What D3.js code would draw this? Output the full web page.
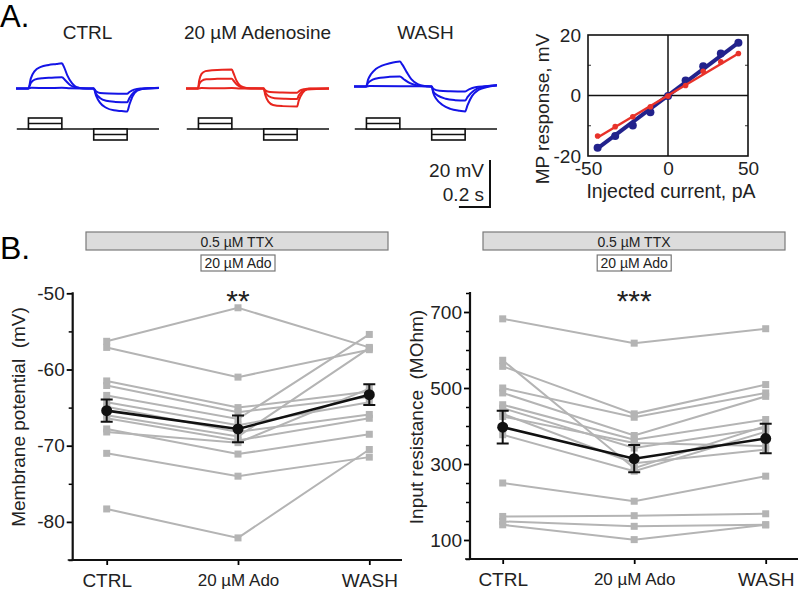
<!DOCTYPE html>
<html>
<head>
<meta charset="utf-8">
<script src="https://cdn.jsdelivr.net/npm/d3@7"></script>
<style>
body { margin: 0; background: #fff; }
svg { font-family: "Liberation Sans", Arial, sans-serif; }
</style>
</head>
<body>
<svg id="fig" width="800" height="605"></svg>
<script>
// ---- panel A: voltage traces, [time s, mV] ----
const traceTitles = ["CTRL", "20 µM Adenosine", "WASH"];
const traceColors = ["#1414e6", "#e8261e", "#1414e6"];
const stepTimes = [[0.08, 0.295], [0.5, 0.715]];

const ctrlSweeps = [
  [[0,0],[0.08,0],[0.095,4.2],[0.12,7.4],[0.16,9.2],[0.21,10],[0.26,10.4],[0.295,10.7],[0.31,9],[0.33,5.6],[0.36,2.3],[0.39,0.6],[0.43,0.1],[0.5,0],[0.515,-3],[0.54,-6],[0.58,-8.2],[0.63,-9.3],[0.68,-9.6],[0.715,-9.8],[0.73,-6.8],[0.75,-3.3],[0.78,-0.9],[0.83,0],[0.92,0.3]],
  [[0,0],[0.08,0],[0.095,2.3],[0.12,3.8],[0.17,4.4],[0.23,4.6],[0.295,4.8],[0.32,3.3],[0.35,1.4],[0.39,0.4],[0.45,0],[0.5,0],[0.515,-2.2],[0.54,-4],[0.58,-5.2],[0.64,-5.7],[0.715,-5.9],[0.73,-4],[0.76,-1.5],[0.8,-0.3],[0.92,0.2]],
  [[0,0],[0.08,0],[0.1,0.3],[0.2,0.2],[0.295,0.3],[0.35,0.1],[0.5,0],[0.515,-1.2],[0.54,-1.9],[0.6,-2.1],[0.715,-2.2],[0.73,-1.5],[0.76,-0.5],[0.8,0],[0.92,0.2]]
];
const adoSweeps = [
  [[0,0],[0.077,0],[0.085,3.4],[0.1,6.2],[0.125,7.4],[0.17,7.8],[0.295,8.1],[0.305,6.6],[0.325,3.3],[0.35,1.1],[0.39,0.2],[0.5,0],[0.51,-2.8],[0.53,-5.6],[0.56,-7],[0.62,-7.5],[0.715,-7.7],[0.725,-5.2],[0.75,-1.9],[0.78,-0.4],[0.92,0]],
  [[0,0],[0.077,0],[0.085,1.8],[0.1,3.2],[0.13,3.9],[0.2,4.1],[0.295,4.2],[0.305,3.4],[0.33,1.5],[0.36,0.4],[0.42,0],[0.5,0],[0.51,-1.6],[0.53,-3.2],[0.57,-4.1],[0.64,-4.4],[0.715,-4.5],[0.725,-3],[0.75,-1.1],[0.79,-0.1],[0.92,0]],
  [[0,0],[0.077,0],[0.1,0.2],[0.2,0.1],[0.295,0.2],[0.35,0],[0.5,0],[0.51,-0.8],[0.54,-1.5],[0.62,-1.7],[0.715,-1.8],[0.73,-1],[0.76,-0.3],[0.8,0],[0.92,0]]
];
const washSweeps = [
  [[0,0],[0.078,0],[0.09,2.8],[0.11,5.3],[0.14,7.4],[0.18,8.9],[0.23,9.9],[0.295,10.6],[0.31,9.4],[0.34,6],[0.37,3],[0.41,1],[0.46,0.2],[0.5,0],[0.51,-2.8],[0.53,-5.3],[0.57,-7.9],[0.62,-9.5],[0.68,-10.3],[0.715,-10.6],[0.73,-8],[0.76,-4],[0.8,-1.5],[0.85,-0.3],[0.92,0.5]],
  [[0,0],[0.078,0],[0.09,1.5],[0.12,2.9],[0.17,3.7],[0.23,4.1],[0.295,4.3],[0.32,3.1],[0.36,1.4],[0.42,0.3],[0.5,0],[0.51,-2.1],[0.54,-3.9],[0.59,-5.2],[0.65,-5.8],[0.715,-6],[0.73,-4.5],[0.77,-1.8],[0.82,-0.3],[0.92,0.5]],
  [[0,0],[0.078,0],[0.1,0.2],[0.3,0.1],[0.5,0],[0.51,-1],[0.55,-1.8],[0.62,-2],[0.715,-2.1],[0.74,-1.2],[0.78,-0.3],[0.85,0.1],[0.92,0.5]]
];
const allSweeps = [ctrlSweeps, adoSweeps, washSweeps];

// ---- panel A: I-V relation ----
const ivCurrent = [-44, -33, -22, -11, 0, 11, 22, 33, 44];
const ivCtrl = [-17.3, -13.4, -9.9, -5.5, -0.2, 5.0, 9.7, 13.9, 17.4];
const ivAdo = [-13.4, -10.3, -7.0, -3.7, -0.2, 3.3, 8.0, 11.1, 13.9];
const ivCtrlFit = [[-44, -17.5], [44, 17.5]];
const ivAdoFit = [[-44, -13.9], [44, 13.9]];

// ---- panel B ----
const conditions = ["CTRL", "20 µM Ado", "WASH"];
const mpCells = [
  [-56.3, -51.9, -57.1],
  [-57.1, -61.0, -57.4],
  [-61.5, -65.0, -62.9],
  [-62.1, -65.6, -63.6],
  [-63.4, -66.5, -55.4],
  [-64.3, -67.3, -64.3],
  [-64.9, -68.2, -65.9],
  [-66.0, -68.8, -57.2],
  [-66.4, -69.3, -66.4],
  [-67.8, -71.1, -68.5],
  [-68.2, -69.6, -62.5],
  [-71.0, -74.0, -71.5],
  [-78.3, -82.1, -70.5]
];
const mpMean = [-65.4, -67.8, -63.3];
const mpSem = [1.45, 1.75, 1.35];

const rinCells = [
  [682, 618, 656],
  [573, 289, 400],
  [557, 432, 509],
  [500, 423, 487],
  [487, 375, 478],
  [456, 364, 417],
  [447, 342, 395],
  [432, 302, 338],
  [425, 355, 347],
  [377, 281, 385],
  [250, 202, 268],
  [162, 164, 169],
  [149, 136, 140],
  [140, 101, 140]
];
const rinMean = [397, 314, 367];
const rinSem = [43, 36, 39];

const svg = d3.select("#fig");

// panel letters
svg.append("text").attr("x", 0).attr("y", 27).attr("font-size", 31).text("A.");
svg.append("text").attr("x", 0).attr("y", 259).attr("font-size", 32).text("B.");

// ---- traces ----
const tx = d3.scaleLinear().domain([0, 0.92]).range([0, 143]);
const ty = d3.scaleLinear().domain([0, 20]).range([0, -47]);
const traceLeft = [16, 186, 354];
const traceBase = [88.5, 88.5, 86.5];
const cmdY = 129;
const traceLine = d3.line()
  .x(function(d) { return tx(d[0]); })
  .y(function(d) { return ty(d[1]); })
  .curve(d3.curveMonotoneX);

for (let i = 0; i < 3; i++) {
  const g = svg.append("g").attr("transform", "translate(" + traceLeft[i] + ",0)");
  g.append("text")
    .attr("x", tx(0.46)).attr("y", 39)
    .attr("text-anchor", "middle").attr("font-size", 19).attr("fill", "#222")
    .text(traceTitles[i]);
  const tg = g.append("g").attr("transform", "translate(0," + traceBase[i] + ")");
  tg.selectAll("path").data(allSweeps[i]).enter().append("path")
    .attr("d", traceLine)
    .attr("fill", "none")
    .attr("stroke", traceColors[i])
    .attr("stroke-width", 2)
    .attr("stroke-linejoin", "round");

  // command protocol
  g.append("line")
    .attr("x1", tx(0.005)).attr("x2", tx(0.92))
    .attr("y1", cmdY).attr("y2", cmdY)
    .attr("stroke", "#111").attr("stroke-width", 1.6);
  stepTimes.forEach(function(s, k) {
    const top = k === 0 ? cmdY - 11 : cmdY;
    g.append("rect")
      .attr("x", tx(s[0])).attr("y", top)
      .attr("width", tx(s[1]) - tx(s[0])).attr("height", 11)
      .attr("fill", "#fff").attr("stroke", "#111").attr("stroke-width", 1.6);
    g.append("line")
      .attr("x1", tx(s[0])).attr("x2", tx(s[1]))
      .attr("y1", top + 5.5).attr("y2", top + 5.5)
      .attr("stroke", "#111").attr("stroke-width", 1.6);
  });
}

// scale bar
const sbX = 490, sbY = 207;
svg.append("path")
  .attr("d", "M" + sbX + "," + (sbY + ty(20)) + "V" + sbY + "H" + (sbX - tx(0.2)))
  .attr("fill", "none").attr("stroke", "#111").attr("stroke-width", 2);
svg.append("text").attr("x", 484).attr("y", 177).attr("text-anchor", "end")
  .attr("font-size", 19).attr("fill", "#222").text("20 mV");
svg.append("text").attr("x", 484).attr("y", 200.5).attr("text-anchor", "end")
  .attr("font-size", 19).attr("fill", "#222").text("0.2 s");

// ---- I-V plot ----
const ivX = d3.scaleLinear().domain([-50, 50]).range([588, 748]);
const ivY = d3.scaleLinear().domain([-20, 20]).range([156, 35]);
const iv = svg.append("g");

iv.append("g").attr("transform", "translate(588,0)")
  .call(d3.axisLeft(ivY).tickValues([-20, 0, 20]).tickSize(0).tickPadding(7).tickFormat(String))
  .call(function(a) { a.select(".domain").remove(); })
  .selectAll("text").attr("font-size", 19).attr("fill", "#222")
  .attr("font-family", "Liberation Sans, Arial, sans-serif");
iv.append("g").attr("transform", "translate(0,156)")
  .call(d3.axisBottom(ivX).tickValues([-50, 0, 50]).tickSize(0).tickPadding(6).tickFormat(String))
  .call(function(a) { a.select(".domain").remove(); })
  .selectAll("text").attr("font-size", 19).attr("fill", "#222")
  .attr("font-family", "Liberation Sans, Arial, sans-serif");

// inner minor ticks
[[588, -1], [748, 1]].forEach(function(p) {
  iv.selectAll(null).data([-10, 10]).enter().append("line")
    .attr("x1", p[0]).attr("x2", p[0] - 3 * p[1])
    .attr("y1", function(d) { return ivY(d); }).attr("y2", function(d) { return ivY(d); })
    .attr("stroke", "#333").attr("stroke-width", 1);
});

iv.append("line").attr("x1", ivX(-50)).attr("x2", ivX(50)).attr("y1", ivY(0)).attr("y2", ivY(0))
  .attr("stroke", "#111").attr("stroke-width", 1.5);
iv.append("line").attr("x1", ivX(0)).attr("x2", ivX(0)).attr("y1", ivY(-20)).attr("y2", ivY(20))
  .attr("stroke", "#111").attr("stroke-width", 1.5);
iv.append("rect").attr("x", ivX(-50)).attr("y", ivY(20))
  .attr("width", ivX(50) - ivX(-50)).attr("height", ivY(-20) - ivY(20))
  .attr("fill", "none").attr("stroke", "#111").attr("stroke-width", 1.6);

const fitLine = d3.line().x(function(d) { return ivX(d[0]); }).y(function(d) { return ivY(d[1]); });
iv.append("path").attr("d", fitLine(ivCtrlFit)).attr("stroke", "#22228c").attr("stroke-width", 4).attr("fill", "none");
iv.selectAll(".pc").data(ivCtrl).enter().append("circle").attr("class", "pc")
  .attr("cx", function(d, i) { return ivX(ivCurrent[i]); })
  .attr("cy", function(d) { return ivY(d); })
  .attr("r", 4).attr("fill", "#22228c");
iv.append("path").attr("d", fitLine(ivAdoFit)).attr("stroke", "#e8322a").attr("stroke-width", 2.5).attr("fill", "none");
iv.selectAll(".pa").data(ivAdo).enter().append("circle").attr("class", "pa")
  .attr("cx", function(d, i) { return ivX(ivCurrent[i]); })
  .attr("cy", function(d) { return ivY(d); })
  .attr("r", 2.8).attr("fill", "#e8322a");

iv.append("text").attr("x", 671).attr("y", 198).attr("text-anchor", "middle")
  .attr("font-size", 19.5).attr("fill", "#222").text("Injected current, pA");
iv.append("text").attr("transform", "translate(549,109) rotate(-90)").attr("text-anchor", "middle")
  .attr("font-size", 19).attr("fill", "#222").text("MP response, mV");

// ---- panel B ----
function drawPanel(o) {
  const g = svg.append("g");
  const x = d3.scalePoint().domain(conditions).range(o.xr);
  const y = d3.scaleLinear().domain(o.domain).range([o.bottom, o.top]);

  // TTX bar and Ado box
  g.append("rect").attr("x", o.bar[0]).attr("y", 232).attr("width", o.bar[1] - o.bar[0]).attr("height", 18)
    .attr("fill", "#dcdcdc").attr("stroke", "#7a7a7a").attr("stroke-width", 1.2);
  g.append("text").attr("x", (o.bar[0] + o.bar[1]) / 2).attr("y", 246.5).attr("text-anchor", "middle")
    .attr("font-size", 14).attr("fill", "#222").text("0.5 µM TTX");
  const bx = x(conditions[1]);
  g.append("rect").attr("x", bx - 37).attr("y", 255).attr("width", 74).attr("height", 16)
    .attr("fill", "#fff").attr("stroke", "#777").attr("stroke-width", 1.2);
  g.append("text").attr("x", bx).attr("y", 267.5).attr("text-anchor", "middle")
    .attr("font-size", 14).attr("fill", "#222").text("20 µM Ado");

  // axes
  const minor = d3.range(o.domain[0], o.domain[1] + 0.001, o.minorStep)
    .filter(function(v) { return o.majors.indexOf(v) < 0; });
  g.append("g").attr("transform", "translate(" + o.axisX + ",0)")
    .call(d3.axisLeft(y).tickValues(minor).tickSize(4).tickFormat(""))
    .call(function(a) { a.select(".domain").remove(); })
    .selectAll("line").attr("stroke-width", 1.5);
  const ya = g.append("g").attr("transform", "translate(" + o.axisX + ",0)")
    .call(d3.axisLeft(y).tickValues(o.majors).tickSize(6).tickPadding(2).tickFormat(String));
  ya.select(".domain").remove();
  ya.selectAll("line").attr("stroke-width", 1.8);
  ya.selectAll("text").attr("font-size", 19).attr("fill", "#222")
    .attr("font-family", "Liberation Sans, Arial, sans-serif");
  g.append("line").attr("x1", o.axisX).attr("x2", o.axisX).attr("y1", o.top - 1).attr("y2", o.bottom)
    .attr("stroke", "#111").attr("stroke-width", 2.2);

  const xa = g.append("g").attr("transform", "translate(0," + o.bottom + ")")
    .call(d3.axisBottom(x).tickSize(5).tickPadding(9));
  xa.select(".domain").remove();
  xa.selectAll("line").attr("stroke-width", 1.8);
  xa.selectAll("text").attr("fill", "#222")
    .attr("font-family", "Liberation Sans, Arial, sans-serif")
    .attr("font-size", function(d) { return d === conditions[1] ? 17 : 19; });
  g.append("line").attr("x1", o.axisX - 1).attr("x2", o.axisEnd).attr("y1", o.bottom).attr("y2", o.bottom)
    .attr("stroke", "#111").attr("stroke-width", 2.2);
  g.append("line").attr("x1", o.axisX - 5).attr("x2", o.axisX).attr("y1", o.bottom).attr("y2", o.bottom)
    .attr("stroke", "#111").attr("stroke-width", 1.5);

  g.append("text").attr("transform", "translate(" + o.labelX + ",417) rotate(-90)")
    .attr("text-anchor", "middle").attr("font-size", 19).attr("fill", "#222")
    .style("white-space", "pre").text(o.ylabel);

  g.append("text").attr("x", bx).attr("y", 311).attr("text-anchor", "middle")
    .attr("font-size", 30).attr("fill", "#222").text(o.stars);

  // individual cells
  const line = d3.line().x(function(d, i) { return x(conditions[i]); }).y(function(d) { return y(d); });
  g.selectAll(".cell").data(o.cells).enter().append("path").attr("class", "cell")
    .attr("d", line).attr("fill", "none").attr("stroke", "#b4b4b4").attr("stroke-width", 2);
  o.cells.forEach(function(c) {
    g.selectAll(null).data(c).enter().append("rect")
      .attr("x", function(d, i) { return x(conditions[i]) - 3.5; })
      .attr("y", function(d) { return y(d) - 3.5; })
      .attr("width", 7).attr("height", 7).attr("fill", "#b4b4b4");
  });

  // mean +- sem
  g.append("path").attr("d", line(o.mean)).attr("fill", "none").attr("stroke", "#111").attr("stroke-width", 2.6);
  o.mean.forEach(function(m, i) {
    const cx = x(conditions[i]);
    const hi = y(m + o.sem[i]), lo = y(m - o.sem[i]);
    g.append("path")
      .attr("d", "M" + cx + "," + hi + "V" + lo + "M" + (cx - 6) + "," + hi + "H" + (cx + 6) + "M" + (cx - 6) + "," + lo + "H" + (cx + 6))
      .attr("stroke", "#111").attr("stroke-width", 2).attr("fill", "none");
    g.append("circle").attr("cx", cx).attr("cy", y(m)).attr("r", 5.5).attr("fill", "#111");
  });
}

drawPanel({
  xr: [106.7, 369.3], axisX: 72.7, axisEnd: 402, bar: [86, 388],
  domain: [-85, -50], top: 293.3, bottom: 560, majors: [-80, -70, -60, -50], minorStep: 5,
  labelX: 25, ylabel: "Membrane potential  (mV)", stars: "**",
  cells: mpCells, mean: mpMean, sem: mpSem
});
drawPanel({
  xr: [502.7, 765.7], axisX: 470, axisEnd: 798, bar: [483, 785],
  domain: [50, 750], top: 293, bottom: 559, majors: [100, 300, 500, 700], minorStep: 50,
  labelX: 423, ylabel: "Input resistance  (MOhm)", stars: "***",
  cells: rinCells, mean: rinMean, sem: rinSem
});
</script>
</body>
</html>
